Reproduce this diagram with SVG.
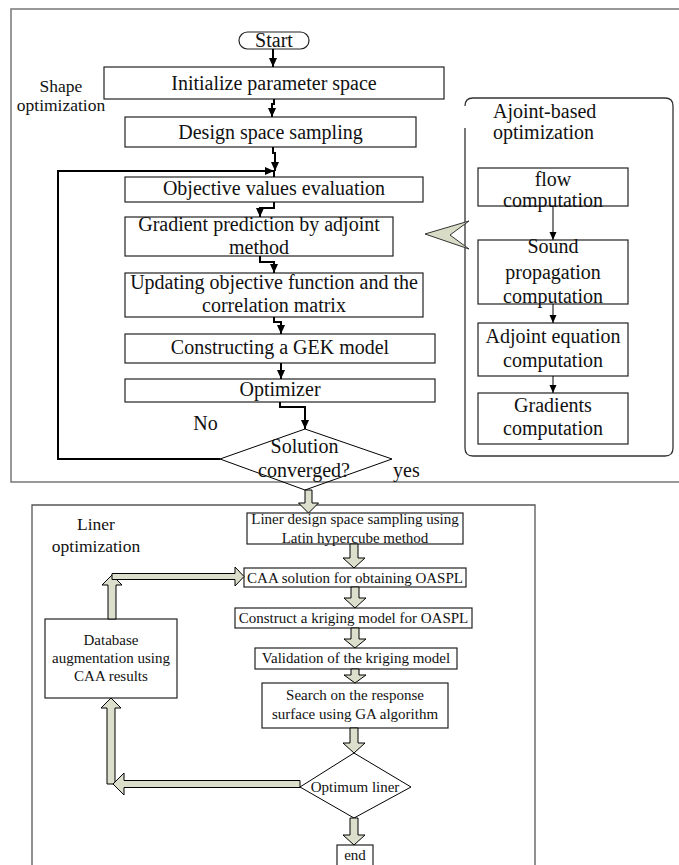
<svg xmlns="http://www.w3.org/2000/svg" width="679" height="865" viewBox="0 0 679 865">
<defs>
<style>
.frame{fill:none;stroke:#777;stroke-width:1.5}
.frame2{fill:none;stroke:#555;stroke-width:1.3}
.box{fill:#fff;stroke:#222;stroke-width:1.2}
.t20{font-family:"Liberation Serif","Times New Roman",serif;font-size:20px;fill:#111;text-anchor:middle}
.t17{font-family:"Liberation Serif","Times New Roman",serif;font-size:17.5px;fill:#111;text-anchor:middle}
.t15{font-family:"Liberation Serif","Times New Roman",serif;font-size:15px;fill:#111;text-anchor:middle}
.start{text-anchor:start}
.conn{fill:none;stroke:#000;stroke-width:2}
.thin{fill:none;stroke:#000;stroke-width:1}
.blk{fill:#dcdfcb;stroke:#000;stroke-width:1}
</style>
<marker id="ah" markerUnits="userSpaceOnUse" markerWidth="10" markerHeight="8" refX="9" refY="4" orient="auto">
<path d="M0,0 L9,4 L0,8 z" fill="#000"/>
</marker>
<marker id="ah2" markerUnits="userSpaceOnUse" markerWidth="9" markerHeight="8" refX="8" refY="3.5" orient="auto">
<path d="M0,0 L8,3.5 L0,7 z" fill="#000"/>
</marker>
</defs>
<rect width="679" height="865" fill="#fff"/>

<!-- frames -->
<g id="frame-shape">
<path class="frame" d="M690,9 H11 V482 H690"/>
<text class="t17" x="61" y="92">Shape</text>
<text class="t17" x="61" y="111">optimization</text>
</g>
<g id="frame-adjoint">
<path d="M465,128 V448 Q465,456 473,456 H665 Q673,456 673,448 V106 Q673,98 665,98 H473 Q465,98 465,106" fill="none" stroke="#333" stroke-width="1.3"/>
<text class="t20 start" x="493" y="118">Ajoint-based</text>
<text class="t20 start" x="493" y="139">optimization</text>
</g>
<g id="frame-liner">
<path class="frame2" d="M32,870 V505 H535 V870"/>
<text class="t17" x="96" y="530">Liner</text>
<text class="t17" x="96" y="552">optimization</text>
</g>

<!-- top nodes -->
<g id="start"><rect class="box" x="239" y="32" width="70" height="17" rx="8.5"/><text class="t20" x="274" y="47">Start</text></g>
<g id="init"><rect class="box" x="104" y="67" width="340" height="32"/><text class="t20" x="274" y="90">Initialize parameter space</text></g>
<g id="design"><rect class="box" x="125" y="117" width="291" height="30"/><text class="t20" x="270.5" y="139">Design space sampling</text></g>
<g id="objective"><rect class="box" x="125" y="177" width="298" height="25"/><text class="t20" x="274" y="195">Objective values evaluation</text></g>
<g id="gradient"><rect class="box" x="125" y="217" width="268" height="39"/><text class="t20" x="259" y="231">Gradient prediction by adjoint</text><text class="t20" x="259" y="254">method</text></g>
<g id="updating"><rect class="box" x="125" y="273" width="298" height="44"/><text class="t20" x="274" y="289">Updating objective function and the</text><text class="t20" x="274" y="312">correlation matrix</text></g>
<g id="gek"><rect class="box" x="125" y="334" width="310" height="29"/><text class="t20" x="280" y="354">Constructing a GEK model</text></g>
<g id="optimizer"><rect class="box" x="125" y="379" width="310" height="23"/><text class="t20" x="280" y="396">Optimizer</text></g>
<g id="converged"><polygon points="305,429 392,459 305,490 220,459" fill="none" stroke="#000" stroke-width="1"/><text class="t20" x="304.5" y="453">Solution</text><text class="t20" x="304" y="477">converged?</text></g>
<g id="label-no"><text class="t20" x="205.5" y="430">No</text></g>
<g id="label-yes"><text class="t20 start" x="393" y="477">yes</text></g>

<!-- adjoint panel nodes -->
<g id="flow"><rect class="box" x="478" y="168" width="150" height="38"/><text class="t20" x="553" y="186">flow</text><text class="t20" x="553" y="207">computation</text></g>
<g id="sound"><rect class="box" x="478" y="240" width="150" height="64"/><text class="t20" x="553" y="253">Sound</text><text class="t20" x="553" y="279">propagation</text><text class="t20" x="553" y="303">computation</text></g>
<g id="adjeq"><rect class="box" x="478" y="323" width="150" height="53"/><text class="t20" x="553" y="343">Adjoint equation</text><text class="t20" x="553" y="367">computation</text></g>
<g id="gradients"><rect class="box" x="478" y="393" width="150" height="51"/><text class="t20" x="553" y="412">Gradients</text><text class="t20" x="553" y="435">computation</text></g>

<!-- liner nodes -->
<g id="liner-sampling"><rect class="box" x="247" y="513" width="216" height="31"/><text class="t15" x="355" y="524">Liner design space sampling using</text><text class="t15" x="355" y="543">Latin hypercube method</text></g>
<g id="caa"><rect class="box" x="244" y="568" width="222" height="19"/><text class="t15" x="355" y="583">CAA solution for obtaining OASPL</text></g>
<g id="kriging"><rect class="box" x="235" y="608" width="237" height="20"/><text class="t15" x="353.5" y="623">Construct a kriging model for OASPL</text></g>
<g id="validation"><rect class="box" x="255" y="648" width="202" height="21"/><text class="t15" x="356" y="663">Validation of the kriging model</text></g>
<g id="search"><rect class="box" x="262" y="683" width="186" height="45"/><text class="t15" x="355" y="700">Search on the response</text><text class="t15" x="355" y="719">surface using GA algorithm</text></g>
<g id="optimum"><polygon points="354,753 411,787 354,818 300,787" fill="#fff" stroke="#000" stroke-width="1"/><text class="t15" x="355" y="792">Optimum liner</text></g>
<g id="end"><rect class="box" x="337" y="845" width="36" height="25"/><text class="t15" x="355" y="860">end</text></g>
<g id="database"><rect class="box" x="45" y="619" width="132" height="79"/><text class="t15" x="111" y="645">Database</text><text class="t15" x="111" y="663">augmentation using</text><text class="t15" x="111" y="681">CAA results</text></g>

<!-- connectors -->
<g id="connectors">
<path class="conn" d="M273,49 V67" marker-end="url(#ah)"/>
<path class="conn" d="M274,99 V104 H272 V117" marker-end="url(#ah)"/>
<path class="conn" d="M273,147 V153 H275 V171" marker-end="url(#ah)"/>
<path class="conn" d="M274,171 V177"/>
<path class="conn" d="M220,459 H58 V171 H274" marker-end="url(#ah)"/>
<path class="conn" d="M274,202 V208 H260 V217" marker-end="url(#ah)"/>
<path class="conn" d="M260,256 V262 H274 V273" marker-end="url(#ah)"/>
<path class="conn" d="M274,317 V322 H281 V334" marker-end="url(#ah)"/>
<path class="conn" d="M281,363 V379" marker-end="url(#ah)"/>
<path class="conn" d="M280,402 V407 H305 V429" marker-end="url(#ah)"/>
<path class="thin" d="M553,206 V240" marker-end="url(#ah2)"/>
<path class="thin" d="M553,304 V323" marker-end="url(#ah2)"/>
<path class="thin" d="M553,376 V393" marker-end="url(#ah2)"/>
<polygon points="425,234 469,221 450,235 469,249" fill="#d8dcc6" stroke="#333" stroke-width="1"/>
<polygon class="blk" points="305,490 312,490 312,503 318.5,503 308.5,513 298.5,503 305,503"/>
<polygon class="blk" points="350,544 358,544 358,558 365,558 354,568 343,558 350,558"/>
<polygon class="blk" points="351,587 359,587 359,598 366,598 355,608 344,598 351,598"/>
<polygon class="blk" points="351,628 359,628 359,639 366,639 355,648 344,639 351,639"/>
<polygon class="blk" points="351,669 359,669 359,675 366,675 355,683 344,675 351,675"/>
<polygon class="blk" points="350,728 358,728 358,743 365,743 354,753 343,743 350,743"/>
<polygon class="blk" points="350,818 358,818 358,835 365,835 354,845 343,835 350,835"/>
<polygon class="blk" points="107,784 115,784 115,708 121,708 111,698 101,708 107,708"/>
<polygon class="blk" points="300,780.5 124,780.5 124,773 113,784 124,795 124,787.5 300,787.5"/>
<polygon class="blk" points="108,619 116,619 116,585 122,585 112,575 102,585 108,585"/>
<polygon class="blk" points="112,573.5 235,573.5 235,567 244,576.5 235,586 235,579.5 112,579.5"/>
</g>
</svg>
